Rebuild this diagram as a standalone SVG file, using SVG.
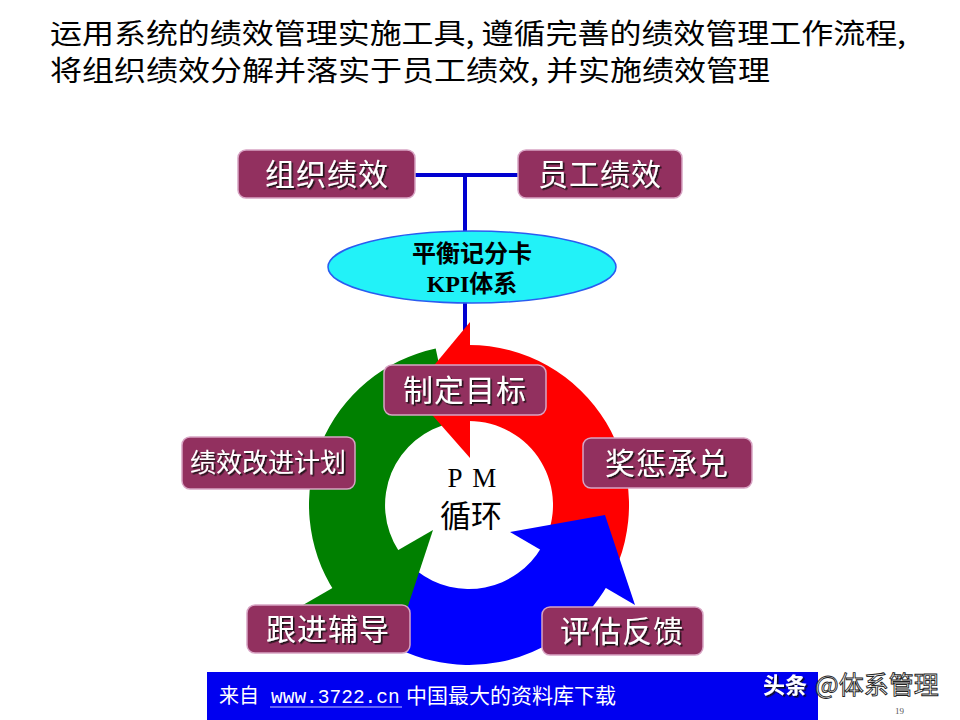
<svg xmlns="http://www.w3.org/2000/svg" width="960" height="720" viewBox="0 0 960 720">
<defs>
<filter id="ts" x="-10%" y="-20%" width="130%" height="150%">
<feDropShadow dx="1.6" dy="1.6" stdDeviation="0.5" flood-color="#111" flood-opacity="0.9"/>
</filter>
</defs>
<style>
.lbl{fill:#92305f;stroke:#d8a4c4;stroke-width:1.5}
.lt{font-family:"Noto Sans CJK SC","Noto Sans",sans-serif;fill:#fff;text-anchor:middle;filter:url(#ts)}
.title{font-family:"Noto Sans CJK SC","Noto Sans",sans-serif;font-size:28px;fill:#000}
.conn{stroke:#0000d0;stroke-width:4;fill:none}
</style>
<rect width="960" height="720" fill="#fff"/>
<text class="title" x="50" y="44" textLength="856" lengthAdjust="spacingAndGlyphs">运用系统的绩效管理实施工具, 遵循完善的绩效管理工作流程,</text>
<text class="title" x="50" y="81" textLength="720" lengthAdjust="spacingAndGlyphs">将组织绩效分解并落实于员工绩效, 并实施绩效管理</text>
<g id="connectors">
<path class="conn" d="M415,175 H518 M465,175 V232 M465,302 V346"/>
</g>
<g id="bsc">
<ellipse cx="472" cy="267" rx="144" ry="36" fill="#22f2f8" stroke="#2a5cf0" stroke-width="1.5"/>
<text x="472" y="262" text-anchor="middle" font-family="'Liberation Serif','Noto Sans CJK SC',serif" font-weight="bold" font-size="24" fill="#000">平衡记分卡</text>
<text x="472" y="292" text-anchor="middle" font-family="'Liberation Serif','Noto Sans CJK SC',serif" font-weight="bold" font-size="24" fill="#000">KPI体系</text>
</g>
<g id="cycle">
<path d="M469,345 A160,160 0 0 1 610.3,580.1 L543.2,544.4 A84,84 0 0 0 469,421 Z" fill="#ff0000"/>
<path d="M435.7,348.5 A160,160 0 0 0 334.8,592.1 L398.6,550.7 A84,84 0 0 1 451.5,422.8 Z" fill="#008000"/>
<path d="M607.6,585 A160,160 0 0 1 370.5,631.1 L417.3,571.2 A84,84 0 0 0 541.7,547 Z" fill="#0000ff"/>
<polygon points="470,322 412,392 470,458" fill="#ff0000"/>
<polygon points="433,530 303,605 404,618" fill="#008000"/>
<polygon points="510,532 605,515 635,605" fill="#0000ff"/>
</g>
<g id="pm">
<text x="473" y="487" text-anchor="middle" font-family="'Liberation Serif',serif" font-size="27" letter-spacing="2" fill="#000">P M</text>
<text x="471" y="527" text-anchor="middle" font-family="'Noto Sans CJK SC',sans-serif" font-size="31" fill="#000">循环</text>
</g>
<g id="org">
<rect class="lbl" x="238" y="150" width="177" height="48" rx="8"/>
<text class="lt" x="327" y="185" font-size="30" letter-spacing="1">组织绩效</text>
</g>
<g id="emp">
<rect class="lbl" x="518" y="150" width="164" height="48" rx="8"/>
<text class="lt" x="600" y="185" font-size="30" letter-spacing="1">员工绩效</text>
</g>
<g id="goal">
<rect class="lbl" x="384" y="365" width="162" height="50" rx="8"/>
<text class="lt" x="465" y="401" font-size="30" letter-spacing="1">制定目标</text>
</g>
<g id="reward">
<rect class="lbl" x="583" y="438" width="169" height="50" rx="8"/>
<text class="lt" x="667" y="474" font-size="30" letter-spacing="1">奖惩承兑</text>
</g>
<g id="improve">
<rect class="lbl" x="182" y="437" width="173" height="52" rx="8"/>
<text class="lt" x="268" y="472" font-size="26">绩效改进计划</text>
</g>
<g id="coach">
<rect class="lbl" x="247" y="605" width="163" height="48" rx="8"/>
<text class="lt" x="328" y="640" font-size="30" letter-spacing="1">跟进辅导</text>
</g>
<g id="evaluate">
<rect class="lbl" x="542" y="607" width="161" height="48" rx="8"/>
<text class="lt" x="622" y="642" font-size="30" letter-spacing="1">评估反馈</text>
</g>
<g id="footer">
<rect x="207" y="672" width="611" height="48" fill="#0000f0"/>
<text y="703" font-family="'Noto Sans CJK SC',sans-serif" font-size="20" fill="#fff"><tspan x="219">来自</tspan><tspan x="271" font-family="'Liberation Mono',monospace" font-size="19.5">www.3722.cn</tspan><tspan x="406" font-size="21">中国最大的资料库下载</tspan></text>
<line x1="270" y1="707" x2="402" y2="707" stroke="#c8c8ff" stroke-width="1"/>
</g>
<g id="watermark">
<text x="763" y="693" font-family="'Noto Sans CJK SC',sans-serif" font-weight="bold" font-size="22" fill="#fff" filter="url(#ts)">头条</text>
<text x="815" y="694" font-family="'Noto Sans CJK SC',sans-serif" font-size="25" fill="#fff" stroke="#222" stroke-width="0.9">@体系管理</text>
<text x="895" y="714" font-family="'Liberation Serif',serif" font-size="9" fill="#555">19</text>
</g>
</svg>
